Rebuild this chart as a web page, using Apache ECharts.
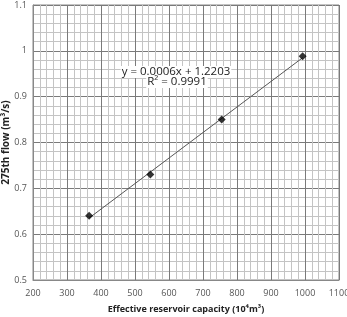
<!DOCTYPE html>
<html>
<head>
<meta charset="utf-8">
<script src="https://cdn.jsdelivr.net/npm/echarts@6/dist/echarts.min.js"></script>
<style>
    html, body { margin: 0; padding: 0; background: #fff; }
    #chart { width: 347px; height: 317px; }
</style>
</head>
<body>
<div id="chart"></div>
<script>
    // reservoir capacity (10^4 m3) vs 275th flow (m3/s)
    var capacity = [365, 545, 755, 993];
    var flow = [0.64, 0.73, 0.85, 0.988];
    var equationText = 'y = 0.0006x + 1.2203';
    var r2Text = 'R² = 0.9991';

    // least squares fit of the points, drawn between first and last point
    function fitLine(xs, ys) {
        var n = xs.length, sx = 0, sy = 0, sxy = 0, sxx = 0;
        for (var i = 0; i < n; i++) {
            sx += xs[i]; sy += ys[i];
            sxy += xs[i] * ys[i]; sxx += xs[i] * xs[i];
        }
        var k = (n * sxy - sx * sy) / (n * sxx - sx * sx);
        var b = (sy - k * sx) / n;
        var x0 = Math.min.apply(null, xs), x1 = Math.max.apply(null, xs);
        return [[x0, k * x0 + b], [x1, k * x1 + b]];
    }

    var points = capacity.map(function (x, i) { return [x, flow[i]]; });
    var trend = fitLine(capacity, flow);

    var font = 'Open Sans';
    var chart = echarts.init(document.getElementById('chart'));
    chart.setOption({
        animation: false,
        grid: {
            left: 33, right: 8, top: 5, bottom: 37,
            outerBoundsMode: 'none', containLabel: false,
            show: true, borderColor: '#888', borderWidth: 1
        },
        xAxis: {
            type: 'value', min: 200, max: 1100, interval: 100,
            name: 'Effective reservoir capacity (10⁴m³)',
            nameLocation: 'middle', nameGap: 25, nameMoveOverlap: false,
            nameTextStyle: { fontFamily: font, fontSize: 9, fontWeight: 'bold', color: '#222' },
            axisLine: { show: true, lineStyle: { color: '#888' } },
            axisTick: { show: false },
            axisLabel: {
                fontFamily: font, fontSize: 9, color: '#555', margin: 9,
                showMaxLabel: true, hideOverlap: false,
                formatter: function (v) { return String(v); }
            },
            splitLine: { show: true, lineStyle: { color: '#7a7a7a', width: 1 } },
            minorTick: { show: false, splitNumber: 5 },
            minorSplitLine: { show: true, lineStyle: { color: '#c4c4c4', width: 1 } }
        },
        yAxis: {
            type: 'value', min: 0.5, max: 1.1, interval: 0.1,
            name: '275th flow (m³/s)',
            nameLocation: 'middle', nameGap: 22, nameMoveOverlap: false,
            nameTextStyle: { fontFamily: font, fontSize: 10, fontWeight: 'bold', color: '#222' },
            axisLine: { show: true, lineStyle: { color: '#888' } },
            axisTick: { show: false },
            axisLabel: {
                fontFamily: font, fontSize: 9, color: '#555', margin: 6,
                showMinLabel: true, showMaxLabel: true,
                formatter: function (v) { return String(Math.round(v * 10) / 10); }
            },
            splitLine: { show: true, lineStyle: { color: '#7a7a7a', width: 1 } },
            minorTick: { show: false, splitNumber: 5 },
            minorSplitLine: { show: true, lineStyle: { color: '#c4c4c4', width: 1 } }
        },
        graphic: [
            {
                type: 'text', x: 176, y: 72, z: 10,
                style: {
                    text: equationText, font: '11.5px "Open Sans"', fill: '#222',
                    align: 'center', verticalAlign: 'middle',
                    backgroundColor: '#fff', padding: [0, 1]
                }
            },
            {
                type: 'text', x: 177, y: 82, z: 10,
                style: {
                    text: r2Text, font: '11.5px "Open Sans"', fill: '#222',
                    align: 'center', verticalAlign: 'middle',
                    backgroundColor: '#fff', padding: [0, 1]
                }
            }
        ],
        series: [
            {
                type: 'line',
                data: trend,
                symbol: 'none',
                lineStyle: { color: '#555', width: 1 },
                z: 3
            },
            {
                type: 'scatter',
                data: points,
                symbol: 'diamond',
                symbolSize: 8,
                itemStyle: { color: '#000' },
                z: 4
            }
        ]
    });
</script>
</body>
</html>
